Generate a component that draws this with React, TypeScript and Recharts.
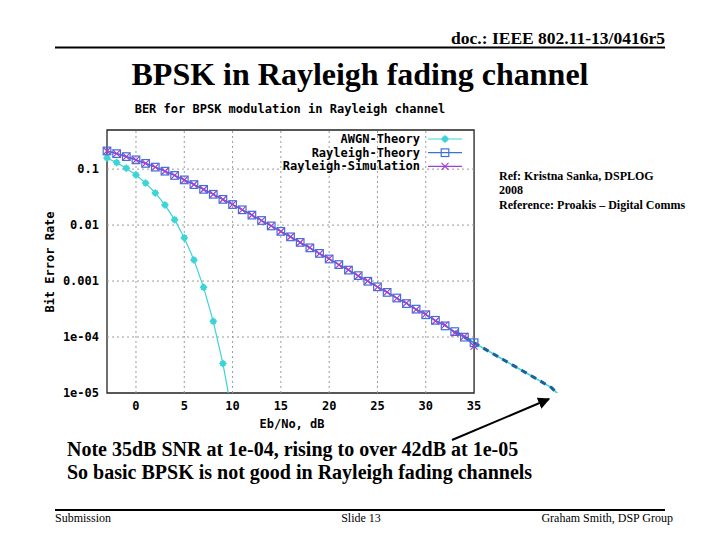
import React from 'react';
import { LineChart, Line, XAxis, YAxis, ReferenceLine, ReferenceArea } from 'recharts';

// Eb/No (dB) points and BER values
const awgnSnr = [-3, -2, -1, 0, 1, 2, 3, 4, 5, 6, 7, 8, 9, 10];
const awgnBer = [0.1584, 0.1307, 0.1038, 0.0786, 0.0563, 0.0375, 0.0229, 0.0125, 0.00595, 0.00239, 0.000773, 0.000191, 0.0000336, 0.00000387];

const raySnr = [-3, -2, -1, 0, 1, 2, 3, 4, 5, 6, 7, 8, 9, 10, 11, 12, 13, 14, 15, 16, 17, 18, 19, 20, 21, 22, 23, 24, 25, 26, 27, 28, 29, 30, 31, 32, 33, 34, 35];
const rayTheoryBer = [0.2111, 0.189, 0.1673, 0.1464, 0.1267, 0.1085, 0.0919, 0.0771, 0.0642, 0.053, 0.0435, 0.0355, 0.0288, 0.0233, 0.01875, 0.01507, 0.01208, 0.00966, 0.00772, 0.00616, 0.00491, 0.00392, 0.00312, 0.00248, 0.00197, 0.00157, 0.00125, 0.000992, 0.000789, 0.000627, 0.000498, 0.000396, 0.000315, 0.00025, 0.000199, 0.000158, 0.000125, 0.0000995, 0.0000791];
const raySimBer = [0.2108, 0.1893, 0.167, 0.1466, 0.1264, 0.1088, 0.0917, 0.0773, 0.064, 0.0532, 0.0433, 0.0356, 0.0287, 0.0234, 0.0187, 0.01512, 0.01203, 0.0097, 0.00768, 0.0062, 0.00488, 0.00395, 0.00309, 0.00251, 0.00195, 0.00159, 0.00123, 0.001003, 0.000781, 0.000635, 0.000492, 0.000404, 0.000309, 0.000256, 0.000193, 0.000165, 0.000118, 0.000103, 0.000069];

// hand-drawn extension beyond the plot frame
const extSnr = [33, 34, 35, 36, 37, 38, 39, 40, 41, 42, 43, 43.7];
const extBer = [0.000125, 0.0000995, 0.0000791, 0.0000628, 0.0000499, 0.0000396, 0.0000315, 0.000025, 0.0000199, 0.0000158, 0.0000125, 0.0000096];

const xTicks = [0, 5, 10, 15, 20, 25, 30, 35];
const xGrid = [0, 5, 10, 15, 20, 25, 30];
const yTicks = [0.1, 0.01, 0.001, 0.0001, 0.00001];
const yGrid = [0.1, 0.01, 0.001, 0.0001];
const yTickLabels = ['0.1', '0.01', '0.001', '1e-04', '1e-05'];

const legendItems = ['AWGN-Theory', 'Rayleigh-Theory', 'Rayleigh-Simulation'];

const awgnData = awgnSnr.map((snr, i) => ({ snr, ber: awgnBer[i] }));
const theoryData = raySnr.map((snr, i) => ({ snr, ber: rayTheoryBer[i] }));
const simData = raySnr.map((snr, i) => ({ snr, ber: raySimBer[i] }));
const extData = extSnr.map((snr, i) => ({ snr, ber: extBer[i] }));

const CYAN = '#3dd4d8';
const BLUE = '#3a72d8';
const PURPLE = '#a040d0';
const DARKBLUE = '#1d5f9e';
const MONO = '"DejaVu Sans Mono", monospace';
const SERIF = '"Liberation Serif", "Times New Roman", serif';

const AwgnDot = (p: any) => (
  <path key={`a-${p.index}`} d={`M${p.cx},${p.cy - 4} L${p.cx + 4},${p.cy} L${p.cx},${p.cy + 4} L${p.cx - 4},${p.cy} Z M${p.cx - 2.6},${p.cy - 2.6} h5.2 v5.2 h-5.2 Z`} fill={CYAN} />
);
const SquareDot = (p: any) => (
  <rect key={`s-${p.index}`} x={p.cx - 3.8} y={p.cy - 3.8} width={7.6} height={7.6} fill="none" stroke={BLUE} strokeWidth={1.2} />
);
const CrossDot = (p: any) => (
  <path key={`c-${p.index}`} d={`M${p.cx - 3.5},${p.cy - 3.5} L${p.cx + 3.5},${p.cy + 3.5} M${p.cx - 3.5},${p.cy + 3.5} L${p.cx + 3.5},${p.cy - 3.5}`} stroke={PURPLE} strokeWidth={1.2} />
);

export default function App() {
  return (
    <div style={{ position: 'absolute', left: 0, top: 0, width: 720, height: 540, background: '#fff', overflow: 'hidden' }}>
      <div style={{ position: 'absolute', left: 0, top: 0 }}>
        <LineChart width={720} height={540} margin={{ top: 130, right: 159, bottom: 117, left: 0 }}>
          <XAxis
            dataKey="snr"
            type="number"
            domain={[-3, 44]}
            ticks={xTicks}
            axisLine={false}
            tickLine={false}
            height={30}
            tick={{ fill: '#000', fontFamily: MONO, fontWeight: 'bold', fontSize: 12 }}
          />
          <YAxis
            dataKey="ber"
            scale="log"
            domain={[0.00001, 0.5]}
            allowDataOverflow
            ticks={yTicks}
            tickFormatter={(v: number) => yTickLabels[yTicks.indexOf(v)] ?? String(v)}
            axisLine={false}
            tickLine={false}
            width={107}
            tick={{ fill: '#000', fontFamily: MONO, fontWeight: 'bold', fontSize: 12 }}
          />
          {xGrid.map((v) => (
            <ReferenceLine key={`gx${v}`} x={v} stroke="#9a9a9a" strokeDasharray="2 3" />
          ))}
          {yGrid.map((v) => (
            <ReferenceLine key={`gy${v}`} segment={[{ x: -3, y: v }, { x: 35, y: v }]} stroke="#9a9a9a" strokeDasharray="2 3" />
          ))}
          <ReferenceArea x1={-3} x2={35} y1={0.00001} y2={0.5} fill="none" stroke="#222" strokeWidth={1.3} />
          <Line data={awgnData} dataKey="ber" stroke={CYAN} strokeWidth={1.2} dot={AwgnDot} isAnimationActive={false} />
          <Line data={extData} dataKey="ber" stroke={CYAN} strokeWidth={1.6} dot={false} isAnimationActive={false} />
          <Line data={extData} dataKey="ber" stroke={DARKBLUE} strokeWidth={3} strokeDasharray="6 5" dot={false} isAnimationActive={false} />
          <Line data={theoryData} dataKey="ber" stroke={BLUE} strokeWidth={1.2} dot={SquareDot} isAnimationActive={false} />
          <Line data={simData} dataKey="ber" stroke={PURPLE} strokeWidth={1.2} dot={CrossDot} isAnimationActive={false} />
        </LineChart>
      </div>
      <svg width={720} height={540} style={{ position: 'absolute', left: 0, top: 0, pointerEvents: 'none' }}>
        <defs>
          <marker id="ah" viewBox="0 0 10 10" refX="9" refY="5" markerWidth="6" markerHeight="6" orient="auto">
            <path d="M0,0 L10,5 L0,10 Z" fill="#000" />
          </marker>
        </defs>
        {/* slide header */}
        <text x={665} y={44} textAnchor="end" fontFamily={SERIF} fontWeight="bold" fontSize={17.5} fill="#000">doc.: IEEE 802.11-13/0416r5</text>
        <line x1={55} y1={47.5} x2={665} y2={47.5} stroke="#000" strokeWidth={2} />
        <text x={360} y={85} textAnchor="middle" fontFamily={SERIF} fontWeight="bold" fontSize={32} fill="#000">BPSK in Rayleigh fading channel</text>
        {/* chart texts */}
        <text x={290} y={113} textAnchor="middle" fontFamily={MONO} fontWeight="bold" fontSize={12} fill="#000">BER for BPSK modulation in Rayleigh channel</text>
        <text x={54} y={262} textAnchor="middle" transform="rotate(-90 54 262)" fontFamily={MONO} fontWeight="bold" fontSize={12} fill="#000">Bit Error Rate</text>
        <text x={292} y={428} textAnchor="middle" fontFamily={MONO} fontWeight="bold" fontSize={12} fill="#000">Eb/No, dB</text>
        {legendItems.map((name, i) => {
          const y = 139 + i * 13.7;
          const color = [CYAN, BLUE, PURPLE][i];
          return (
            <g key={name}>
              <text x={420} y={y + 4} textAnchor="end" fontFamily={MONO} fontWeight="bold" fontSize={12} fill="#000">{name}</text>
              <line x1={428} y1={y} x2={462} y2={y} stroke={color} strokeWidth={1.2} />
              {i === 0 && <AwgnDot cx={445} cy={y} index={0} />}
              {i === 1 && <SquareDot cx={445} cy={y} index={0} />}
              {i === 2 && <CrossDot cx={445} cy={y} index={0} />}
            </g>
          );
        })}
        {/* reference note */}
        <text fontFamily={SERIF} fontWeight="bold" fontSize={12} fill="#000">
          <tspan x={499} y={180}>Ref:  Kristna Sanka, DSPLOG</tspan>
          <tspan x={499} y={194}>2008</tspan>
          <tspan x={499} y={209}>Reference: Proakis – Digital Comms</tspan>
        </text>
        {/* arrow */}
        <line x1={452} y1={440} x2={549} y2={399} stroke="#000" strokeWidth={2} markerEnd="url(#ah)" />
        {/* notes */}
        <text x={67} y={456} fontFamily={SERIF} fontWeight="bold" fontSize={20} fill="#000">Note 35dB SNR at 1e-04, rising to over 42dB at 1e-05</text>
        <text x={67} y={479} fontFamily={SERIF} fontWeight="bold" fontSize={20} fill="#000">So basic BPSK is not good in Rayleigh fading channels</text>
        {/* footer */}
        <line x1={55} y1={510} x2={665} y2={510} stroke="#000" strokeWidth={2} />
        <text x={55} y={522} fontFamily={SERIF} fontSize={12} fill="#000">Submission</text>
        <text x={361} y={522} textAnchor="middle" fontFamily={SERIF} fontSize={12} fill="#000">Slide 13</text>
        <text x={673} y={522} textAnchor="end" fontFamily={SERIF} fontSize={12} fill="#000">Graham Smith, DSP Group</text>
      </svg>
    </div>
  );
}
